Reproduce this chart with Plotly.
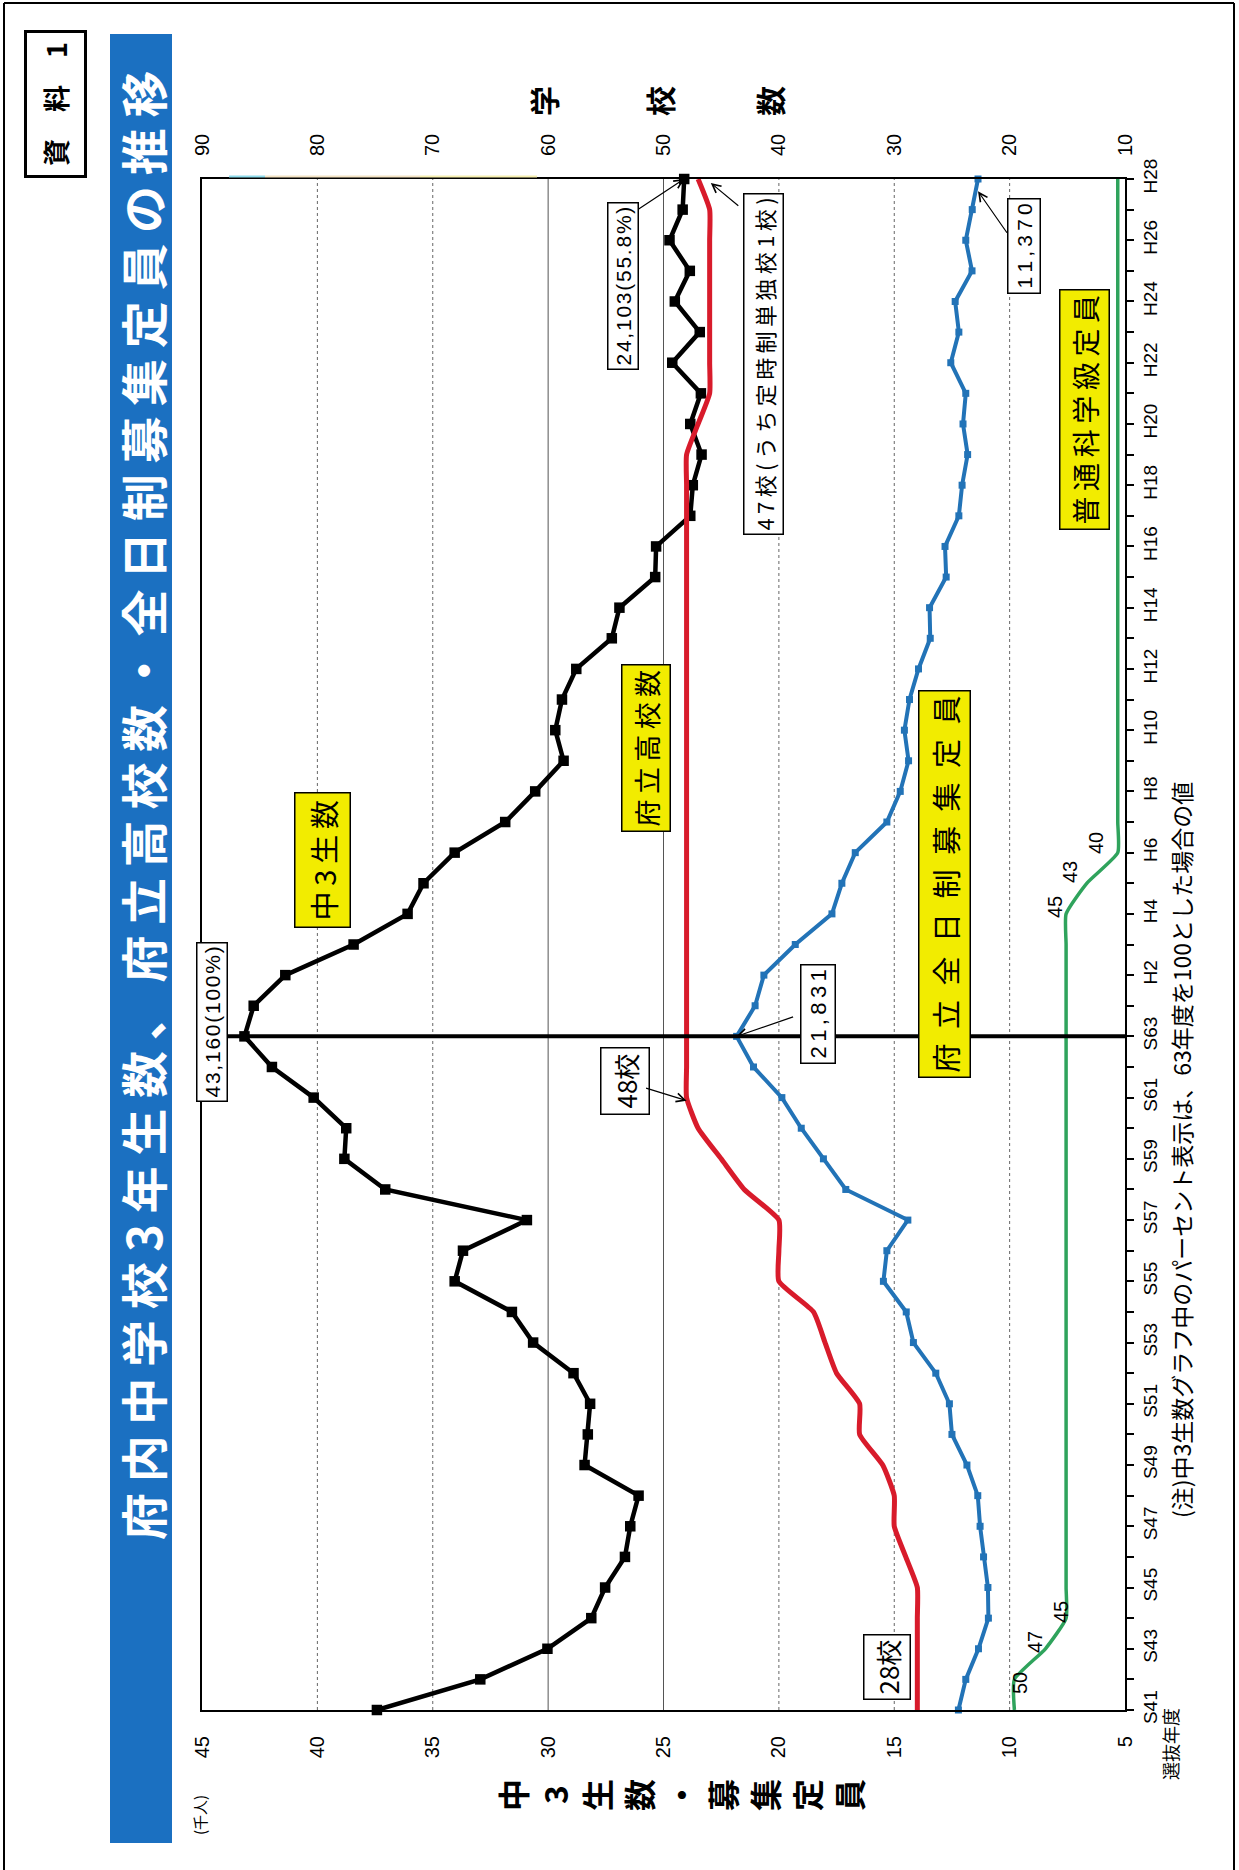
import plotly.graph_objects as go

# 選抜年度 (fiscal years), one entry per data point
fiscal_years = ["S41", "S42", "S43", "S44", "S45", "S46", "S47", "S48", "S49", "S50",
                "S51", "S52", "S53", "S54", "S55", "S56", "S57", "S58", "S59", "S60",
                "S61", "S62", "S63",
                "H1", "H2", "H3", "H4", "H5", "H6", "H7", "H8", "H9", "H10",
                "H11", "H12", "H13", "H14", "H15", "H16", "H17", "H18", "H19", "H20",
                "H21", "H22", "H23", "H24", "H25", "H26", "H27", "H28"]

year_tick_labels = ["S41", "S43", "S45", "S47", "S49", "S51", "S53", "S55", "S57", "S59",
                    "S61", "S63", "H2", "H4", "H6", "H8", "H10", "H12", "H14", "H16",
                    "H18", "H20", "H22", "H24", "H26", "H28"]

# 中3生数 (thousands)
students_k = [37.42, 32.94, 30.03, 28.13, 27.53, 26.67, 26.44, 26.08, 28.42, 28.28,
              28.18, 28.90, 30.65, 31.57, 34.05, 33.69, 30.92, 37.06, 38.83, 38.75,
              40.16, 41.97, 43.160,
              42.76, 41.39, 38.43, 36.09, 35.40, 34.05, 31.86, 30.56, 29.33, 29.69,
              29.40, 28.78, 27.24, 26.91, 25.36, 25.32, 23.84, 23.73, 23.35, 23.84,
              23.38, 24.62, 23.43, 24.51, 23.86, 24.74, 24.17, 24.103]

# 府立全日制募集定員 (thousands)
capacity_k = [12.22, 11.90, 11.35, 10.92, 10.94, 11.13, 11.28, 11.38, 11.85, 12.50,
              12.61, 13.20, 14.17, 14.48, 15.47, 15.32, 14.41, 17.10, 18.07, 19.03,
              19.87, 21.10, 21.831,
              21.03, 20.65, 19.29, 17.70, 17.27, 16.69, 15.32, 14.74, 14.38, 14.56,
              14.34, 13.95, 13.44, 13.47, 12.75, 12.80, 12.20, 12.06, 11.82, 12.02,
              11.90, 12.55, 12.20, 12.36, 11.63, 11.90, 11.62, 11.370]

# 府立高校数 (schools)
schools = [28, 28, 28, 28, 28, 29, 30, 30, 31, 33,
           33, 35, 36, 37, 40, 40, 40, 43, 45, 47,
           48, 48, 48,
           48, 48, 48, 48, 48, 48, 48, 48, 48, 48,
           48, 48, 48, 48, 48, 48, 48, 48, 48, 47,
           46, 46, 46, 46, 46, 46, 46, 47]

# 普通科学級定員 (students per class)
class_size = [50, 50, 47, 45, 45, 45, 45, 45, 45, 45,
              45, 45, 45, 45, 45, 45, 45, 45, 45, 45,
              45, 45, 45,
              45, 45, 45, 45, 43, 40, 40, 40, 40, 40,
              40, 40, 40, 40, 40, 40, 40, 40, 40, 40,
              40, 40, 40, 40, 40, 40, 40, 40]

student_ticks = [45, 40, 35, 30, 25, 20, 15, 10, 5]
school_ticks = [90, 80, 70, 60, 50, 40, 30, 20, 10]

W, H = 1239, 1870
PL, PR, PT, PB = 202, 1125, 179, 1710

def px(x):
    return (x - PL) / (PR - PL)

def py(y):
    return (PB - y) / (PB - PT)

def spread(s, gap):
    return gap.join(list(s))

ypos = list(range(len(fiscal_years)))
ticktext = [fy if fy in year_tick_labels else "" for fy in fiscal_years]

JP = "Noto Sans CJK JP"
NUM = "Liberation Sans, Arial, sans-serif"

fig = go.Figure()

fig.add_trace(go.Scatter(x=class_size, y=ypos, xaxis="x3", mode="lines",
                         line=dict(color="#2fa35c", width=3.5, shape="spline", smoothing=0.5),
                         cliponaxis=False, hoverinfo="skip"))
fig.add_trace(go.Scatter(x=schools, y=ypos, xaxis="x2", mode="lines",
                         line=dict(color="#d81b2b", width=5, shape="spline", smoothing=0.5),
                         cliponaxis=False, hoverinfo="skip"))
fig.add_trace(go.Scatter(x=capacity_k, y=ypos, mode="lines+markers",
                         line=dict(color="#2273b7", width=4),
                         marker=dict(symbol="square", size=7, color="#2273b7"),
                         cliponaxis=False, hoverinfo="skip"))
fig.add_trace(go.Scatter(x=students_k, y=ypos, mode="lines+markers",
                         line=dict(color="black", width=4.5),
                         marker=dict(symbol="square", size=10.5, color="black"),
                         cliponaxis=False, hoverinfo="skip"))

shapes = []
# value grid
for v, dash, col in [(40, "3px,3px", "#666"), (35, "3px,3px", "#666"), (30, "solid", "#555"),
                     (25, "solid", "#555"), (20, "3px,3px", "#666"), (15, "3px,3px", "#666"),
                     (10, "3px,3px", "#666")]:
    shapes.append(dict(type="line", xref="x", yref="paper", x0=v, x1=v, y0=0, y1=1,
                       line=dict(color=col, width=1, dash=dash), layer="below"))
# S63 reference line
s63 = fiscal_years.index("S63")
shapes.append(dict(type="line", xref="paper", yref="y", x0=0, x1=1, y0=s63, y1=s63,
                   line=dict(color="black", width=4)))
# title band
shapes.append(dict(type="rect", xref="paper", yref="paper", x0=px(110), x1=px(172),
                   y0=py(1843), y1=py(34), fillcolor="#1b70c1", line=dict(width=0)))
# faint tint along the upper frame
for x0, x1, col in [(229, 265, "#8fdcec"), (265, 420, "#f3e3c4"), (420, 537, "#f6efb0")]:
    shapes.append(dict(type="line", xref="paper", yref="paper", x0=px(x0), x1=px(x1),
                       y0=py(176.5), y1=py(176.5), line=dict(color=col, width=2)))
# page frame
for (x0, y0, x1, y1) in [(4, 3, 4, 1870), (4, 3, 1234, 3), (1234, 3, 1234, 1870)]:
    shapes.append(dict(type="line", xref="paper", yref="paper", x0=px(x0), x1=px(x1),
                       y0=py(y0), y1=py(y1), line=dict(color="black", width=2)))

ann = []

def label(text, x, y, size, family=JP, bg=None, border=None, pad=3, color="black", bw=1.5):
    d = dict(text=text, x=px(x), y=py(y), xref="paper", yref="paper", showarrow=False,
             textangle=-90, xanchor="center", yanchor="middle",
             font=dict(family=family, size=size, color=color))
    if bg:
        d["bgcolor"] = bg
    if border:
        d["bordercolor"] = border
        d["borderwidth"] = bw
        d["borderpad"] = pad
    ann.append(d)

def arrow(x, y, ax, ay, xref="x"):
    ann.append(dict(text="", x=x, y=y, xref=xref, yref="y", ax=ax, ay=ay,
                    showarrow=True, arrowhead=5, arrowsize=1.4, arrowwidth=1.2,
                    arrowcolor="black"))

# title, badge
label("<b>" + spread("府内中学校3年生数、府立高校数・全日制募集定員の推移", " ") + "</b>",
      141, 806, 47, color="white")
label("<b>資　料　1</b>", 56, 104, 27, bg="white", border="black", pad=9, bw=3)

# axis captions
for ch, x in zip("中3生数・募集定員", [512 + i * 42 for i in range(9)]):
    label("<b>" + ch + "</b>", x, 1795, 32)
label("(千人)", 199, 1815, 15)
for ch, x in zip("学校数", [543, 659, 769]):
    label("<b>" + ch + "</b>", x, 101, 30)
label("選抜年度", 1170, 1744, 18)
label("(注)中3生数グラフ中のパーセント表示は、63年度を100とした場合の値", 1181, 1150, 23)

# series captions
YEL = "#f2ec00"
label(spread("中3生数", "\u2009"), 322, 860, 29, bg=YEL, border="black", pad=6)
label(spread("府立高校数", "\u2009"), 646, 748, 27, bg=YEL, border="black", pad=4)
label(spread("府立全日制募集定員", "\u2002"), 945, 884, 29, bg=YEL, border="black", pad=4)
label(spread("普通科学級定員", "\u2009"), 1085, 410, 28, bg=YEL, border="black", pad=4)

# value callouts
label(spread("43,160(100%)", "\u200a"), 212, 1022, 21, family=NUM, bg="white", border="black")
label(spread("24,103(55.8%)", "\u200a"), 623, 286, 21, family=NUM, bg="white", border="black")
label(spread("47校(うち定時制単独校1校)", "\u2009"), 763, 364, 22, bg="white", border="black")
label(spread("11,370", "\u2009"), 1024, 246, 21, family=NUM, bg="white", border="black", pad=4)
label(spread("21,831", "\u2009"), 818, 1014, 22, family=NUM, bg="white", border="black", pad=4)
label("48校", 625, 1081, 26, bg="white", border="black", pad=5)
label("28校", 887, 1667, 26, bg="white", border="black", pad=4)

# class-size values beside the green line
for t, x, y in [("50", 1020, 1683), ("47", 1035, 1642), ("45", 1061, 1612),
                ("45", 1055, 907), ("43", 1070, 872), ("40", 1096, 843)]:
    label(t, x, y, 20, family=NUM)

h28 = fiscal_years.index("H28")
arrow(students_k[h28], h28, -47, 31)
arrow(45.9, h28 - 0.13, 29, 24, xref="x2")
arrow(capacity_k[h28], h28 - 0.4, 30, 43)
arrow(capacity_k[s63], s63, 58, -20)
arrow(48, s63 - 2.1, -42, -13, xref="x2")

fig.update_layout(
    width=W, height=H, autosize=False,
    margin=dict(l=PL, r=W - PR, t=PT, b=H - PB),
    paper_bgcolor="white", plot_bgcolor="white",
    showlegend=False,
    font=dict(family=NUM, color="black"),
    xaxis=dict(range=[45, 5], tickvals=student_ticks, tickangle=-90, showgrid=False,
               zeroline=False, showline=True, linecolor="black", linewidth=2, mirror=True,
               ticks="", ticklabelstandoff=16, tickfont=dict(size=20, family=NUM)),
    xaxis2=dict(overlaying="x", side="top", anchor="y", range=[90, 10], tickvals=school_ticks,
                tickangle=-90, showgrid=False, zeroline=False, showline=False, ticks="",
                ticklabelstandoff=22, tickfont=dict(size=20, family=NUM)),
    xaxis3=dict(overlaying="x", anchor="y", range=[128.6, 39.3], visible=False),
    yaxis=dict(range=[0, len(fiscal_years) - 1], side="right", tickvals=ypos, ticktext=ticktext,
               tickangle=-90, ticks="outside", ticklen=7, tickwidth=1.5, tickcolor="black",
               showgrid=False, zeroline=False, showline=True, linecolor="black", linewidth=2,
               mirror=True, tickfont=dict(size=19, family=NUM)),
    shapes=shapes,
    annotations=ann,
)

fig.write_html("out.html")
